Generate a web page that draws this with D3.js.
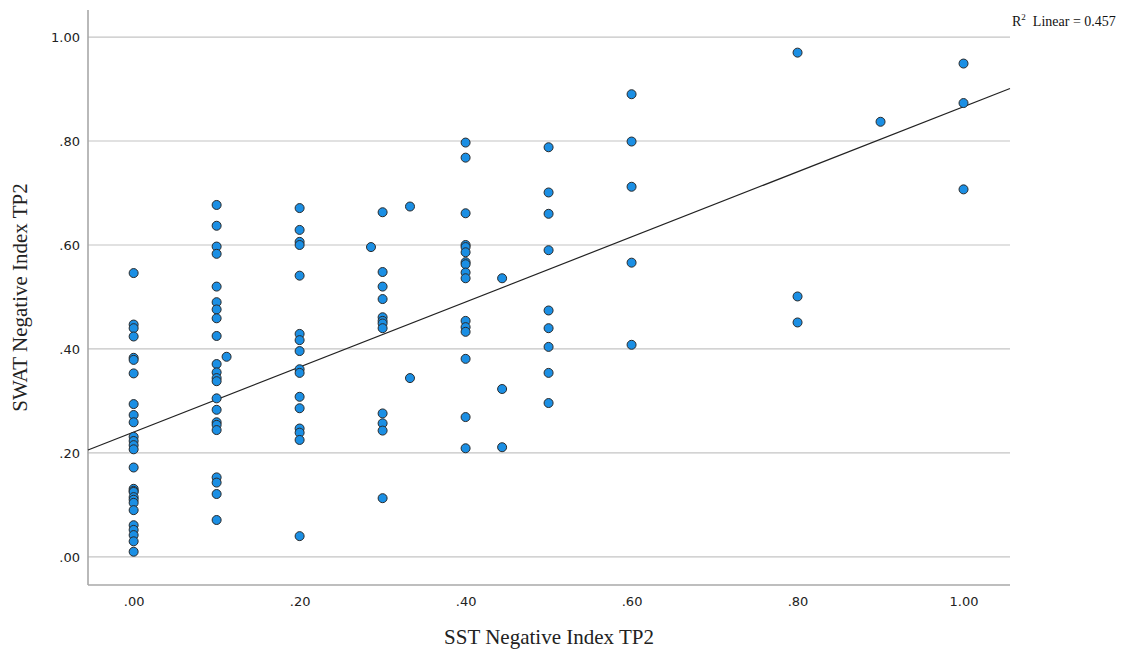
<!DOCTYPE html>
<html>
<head>
<meta charset="utf-8">
<script src="https://cdn.jsdelivr.net/npm/d3@7/dist/d3.min.js"></script>
<title>SST vs SWAT Negative Index TP2</title>
<style>
    body { margin: 0; background: #fff; }
    .tick text { font-family: "DejaVu Sans", "Liberation Sans", sans-serif; font-size: 13px; fill: #222; }
    .title { font-family: "Liberation Serif", "Times New Roman", serif; font-size: 21px; fill: #222; }
    .r2 { font-family: "Liberation Serif", "Times New Roman", serif; font-size: 14px; fill: #111; }
</style>
</head>
<body>
<div id="chart"></div>
<script>
// x value of each column (SST Negative Index TP2) and the SWAT values
var sstX0 = [0.546, 0.447, 0.440, 0.424, 0.383, 0.379, 0.353, 0.294, 0.273, 0.259, 0.231, 0.223,
             0.215, 0.207, 0.172, 0.131, 0.127, 0.125, 0.115, 0.110, 0.104, 0.090, 0.061, 0.052,
             0.042, 0.030, 0.010];
var sstX10 = [0.677, 0.637, 0.597, 0.583, 0.520, 0.490, 0.476, 0.459, 0.425, 0.371, 0.355, 0.344,
              0.338, 0.305, 0.283, 0.259, 0.254, 0.244, 0.153, 0.143, 0.121, 0.071];
var sstX20 = [0.671, 0.629, 0.606, 0.600, 0.541, 0.429, 0.417, 0.396, 0.361, 0.354, 0.308, 0.286,
              0.247, 0.239, 0.225, 0.040];
var sstX30 = [0.663, 0.548, 0.520, 0.496, 0.461, 0.454, 0.449, 0.440, 0.276, 0.257, 0.243, 0.113];
var sstX40 = [0.797, 0.768, 0.661, 0.600, 0.596, 0.586, 0.567, 0.563, 0.547, 0.536, 0.454, 0.442,
              0.433, 0.381, 0.269, 0.209];
var sstX50 = [0.788, 0.701, 0.660, 0.590, 0.474, 0.440, 0.404, 0.354, 0.296];
var sstX60 = [0.890, 0.799, 0.712, 0.566, 0.408];
var sstX80 = [0.970, 0.501, 0.451];
var sstX90 = [0.837];
var sstX100 = [0.949, 0.873, 0.707];
// the few points that are not on a 0.1 column
var oddX = [0.112, 0.286, 0.333, 0.333, 0.444, 0.444, 0.444];
var oddY = [0.385, 0.596, 0.674, 0.344, 0.536, 0.323, 0.211];

// fit line as drawn in the picture (many points overlap, so it is read, not recomputed)
var fitIntercept = 0.240;
var fitSlope = 0.626;
var r2Label = "0.457";

var xTicks = [0, 0.2, 0.4, 0.6, 0.8, 1.0];
var yTicks = [0, 0.2, 0.4, 0.6, 0.8, 1.0];

var columns = [[0, sstX0], [0.1, sstX10], [0.2, sstX20], [0.3, sstX30], [0.4, sstX40],
               [0.5, sstX50], [0.6, sstX60], [0.8, sstX80], [0.9, sstX90], [1.0, sstX100]];

var points = [];
columns.forEach(function (c) {
    c[1].forEach(function (v) { points.push({x: c[0], y: v}); });
});
oddX.forEach(function (v, i) { points.push({x: v, y: oddY[i]}); });

var width = 1125, height = 650;
var plotLeft = 88, plotRight = 1010, plotTop = 10, plotBottom = 585;

var x = d3.scaleLinear().domain([-0.055, 1.056]).range([plotLeft, plotRight]);
var y = d3.scaleLinear().domain([-0.054, 1.052]).range([plotBottom, plotTop]);

var fmt = function (d) {
    return d === 1 ? "1.00" : d3.format(".2f")(d).replace(/^0/, "");
};

var svg = d3.select("#chart").append("svg")
    .attr("width", width)
    .attr("height", height);

// horizontal grid lines
svg.append("g").selectAll("line")
    .data(yTicks)
    .enter().append("line")
    .attr("x1", plotLeft).attr("x2", plotRight)
    .attr("y1", function (d) { return y(d); })
    .attr("y2", function (d) { return y(d); })
    .attr("stroke", "#c4c4c4")
    .attr("stroke-width", 1.2);

// axes
var yAxis = svg.append("g")
    .attr("transform", "translate(" + plotLeft + ",0)")
    .call(d3.axisLeft(y).tickValues(yTicks).tickFormat(fmt).tickSize(0).tickPadding(8));
yAxis.select(".domain").remove();

var xAxis = svg.append("g")
    .attr("transform", "translate(0," + plotBottom + ")")
    .call(d3.axisBottom(x).tickValues(xTicks).tickFormat(fmt).tickSize(0).tickPadding(12));
xAxis.select(".domain").remove();

svg.append("line")
    .attr("x1", plotLeft).attr("x2", plotLeft)
    .attr("y1", plotTop).attr("y2", plotBottom)
    .attr("stroke", "#a8a8a8").attr("stroke-width", 1.6);
svg.append("line")
    .attr("x1", plotLeft).attr("x2", plotRight)
    .attr("y1", plotBottom).attr("y2", plotBottom)
    .attr("stroke", "#a8a8a8").attr("stroke-width", 1.6);

// fit line across the whole plot
var xd = x.domain();
svg.append("line")
    .attr("x1", x(xd[0])).attr("y1", y(fitIntercept + fitSlope * xd[0]))
    .attr("x2", x(xd[1])).attr("y2", y(fitIntercept + fitSlope * xd[1]))
    .attr("stroke", "#222")
    .attr("stroke-width", 1.2);

// points
svg.append("g").selectAll("circle")
    .data(points)
    .enter().append("circle")
    .attr("cx", function (d) { return x(d.x); })
    .attr("cy", function (d) { return y(d.y); })
    .attr("r", 4.5)
    .attr("fill", "#1b8fe4")
    .attr("stroke", "#2a2a2a")
    .attr("stroke-width", 1);

// titles
svg.append("text")
    .attr("class", "title")
    .attr("x", (plotLeft + plotRight) / 2)
    .attr("y", 644)
    .attr("text-anchor", "middle")
    .text("SST Negative Index TP2");

svg.append("text")
    .attr("class", "title")
    .attr("transform", "translate(27," + ((plotTop + plotBottom) / 2) + ") rotate(-90)")
    .attr("text-anchor", "middle")
    .text("SWAT Negative Index TP2");

var r2 = svg.append("text")
    .attr("class", "r2")
    .attr("x", 1012)
    .attr("y", 26);
r2.append("tspan").text("R");
r2.append("tspan").attr("dy", -6).attr("font-size", 9).text("2");
r2.append("tspan").attr("dy", 6).text("\u00a0 Linear = " + r2Label);
</script>
</body>
</html>
